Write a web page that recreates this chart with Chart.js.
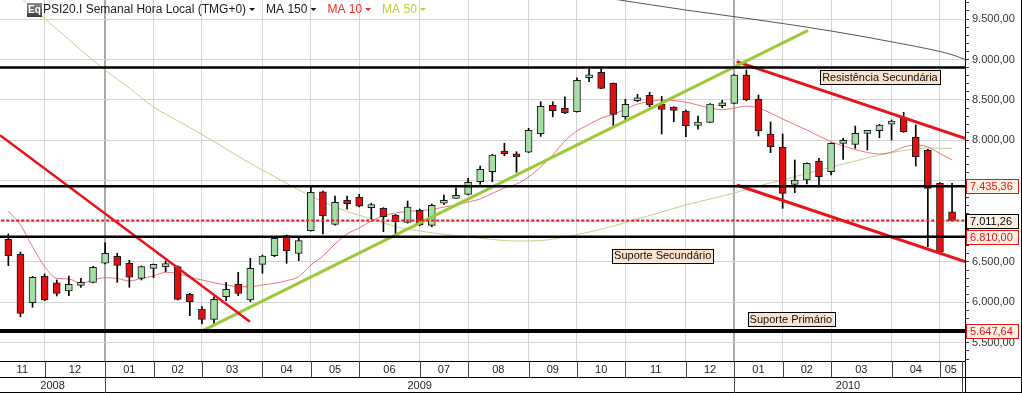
<!DOCTYPE html>
<html>
<head>
<meta charset="utf-8">
<script src="https://cdn.jsdelivr.net/npm/chart.js@4.4.0/dist/chart.umd.min.js"></script>
<style>
html, body { margin: 0; padding: 0; background: #fff; }
canvas { display: block; }
</style>
</head>
<body>
<canvas id="psiChart" width="1022" height="393"></canvas>
<script>
// weekly candles, index 0 = week of 10 Nov 2008, last = week of 10 May 2010
var openValues = [6779, 6594, 5996, 6322, 6243, 6141, 6211, 6248, 6483, 6569,
  6483, 6297, 6421, 6441, 6441, 6100, 5915, 5791, 6070, 6223,
  6030, 6470, 6577, 6824, 6606, 6885, 7367, 6964, 7261, 7302,
  7170, 7162, 7079, 6989, 7137, 6952, 7224, 7285, 7335, 7491,
  7614, 7866, 7833, 7854, 8083, 8434, 8397, 8355, 8775, 8842,
  8706, 8293, 8491, 8558, 8450, 8404, 8364, 8187, 8224, 8429,
  8459, 8808, 8508, 8080, 7916, 7458, 7512, 7746, 7614, 7965,
  7952, 8088, 8121, 8200, 8281, 8039, 7882, 7471, 7120];
var highValues = [6845, 6622, 6320, 6351, 6277, 6326, 6298, 6446, 6737, 6606,
  6520, 6450, 6475, 6511, 6450, 6112, 5947, 6070, 6248, 6372,
  6545, 6585, 6804, 6832, 6792, 7438, 7375, 7314, 7314, 7335,
  7224, 7170, 7085, 7252, 7153, 7215, 7326, 7416, 7533, 7685,
  7829, 7965, 7861, 8150, 8479, 8479, 8540, 8775, 8883, 8883,
  8710, 8508, 8570, 8595, 8545, 8417, 8376, 8302, 8455, 8496,
  8815, 8870, 8561, 8228, 8080, 7759, 7725, 7780, 7970, 8027,
  8178, 8125, 8200, 8253, 8348, 8191, 7890, 7480, 7471];
var lowValues = [6453, 5823, 5940, 6021, 6079, 6083, 6186, 6240, 6475, 6248,
  6186, 6277, 6305, 6379, 6030, 5836, 5733, 5733, 6021, 6083,
  6009, 6359, 6564, 6483, 6515, 6880, 6845, 6955, 7150, 7180,
  7026, 6873, 6845, 6980, 6947, 6935, 7211, 7285, 7326, 7458,
  7491, 7812, 7607, 7850, 8051, 8293, 8331, 8350, 8726, 8640,
  8178, 8232, 8479, 8417, 8080, 8232, 8046, 8138, 8220, 8405,
  8455, 8491, 8055, 7849, 7162, 7355, 7462, 7438, 7573, 7767,
  7903, 7882, 8034, 8006, 8100, 7685, 6688, 6614, 7005];
var closeValues = [6577, 5865, 6310, 6033, 6112, 6223, 6248, 6433, 6606, 6458,
  6310, 6441, 6470, 6470, 6038, 6009, 5791, 6038, 6162, 6112,
  6421, 6573, 6792, 6638, 6762, 7360, 7067, 7236, 7219, 7187,
  7203, 7058, 6997, 7178, 6956, 7199, 7261, 7314, 7483, 7644,
  7820, 7833, 7799, 8125, 8422, 8368, 8343, 8743, 8805, 8644,
  8323, 8447, 8521, 8438, 8385, 8372, 8182, 8228, 8450, 8463,
  8808, 8500, 8121, 7923, 7347, 7512, 7718, 7552, 7965, 7993,
  8088, 8117, 8191, 8240, 8108, 7799, 7409, 6626, 7011];

// moving averages
var ma10Values = [7129, 6956, 6688, 6441, 6297, 6289, 6236, 6277, 6305, 6297,
  6264, 6297, 6326, 6372, 6359, 6310, 6277, 6243, 6215, 6194,
  6194, 6215, 6236, 6268, 6318, 6462, 6573, 6721, 6845, 6919,
  7005, 7067, 7104, 7123, 7135, 7147, 7178, 7203, 7240, 7277,
  7346, 7413, 7462, 7549, 7672, 7820, 7993, 8118, 8197, 8277,
  8321, 8389, 8450, 8481, 8500, 8493, 8475, 8437, 8400, 8381,
  8400, 8425, 8400, 8339, 8265, 8197, 8129, 8055, 7987, 7932,
  7888, 7851, 7833, 7857, 7919, 7944, 7919, 7839, 7759];
var ma50Points = [[0, 9895], [2, 9636], [4, 9376], [6, 9117], [8, 8866], [10, 8648],
  [12, 8413], [14, 8243], [16, 8074], [18, 7895], [20, 7718], [22, 7553],
  [24, 7388], [26, 7244], [28, 7123], [30, 7032], [32, 6937], [34, 6882],
  [36, 6841], [38, 6811], [40, 6777], [42, 6758], [44, 6764], [46, 6808],
  [48, 6869], [50, 6943], [52, 7030], [54, 7116], [56, 7203], [58, 7277],
  [60, 7351], [62, 7438], [64, 7512], [66, 7592], [68, 7672], [70, 7746],
  [72, 7820], [74, 7876], [76, 7907], [78, 7901]];
var ma150Points = [[50, 9747], [56, 9611], [62, 9488], [68, 9352], [74, 9190], [78, 9060], [79.07, 9000]];

// drawn trend lines: [week index, price]
var downTrendLine = [[-0.69, 8065], [19.97, 5762]];
var upTrendLine = [[16.03, 5647], [66.1, 9359]];
var channelTop = [[60.2, 8973], [79.07, 8025]];
var channelBottom = [[60.2, 7450], [79.07, 6503]];

var levelValues = [8900, 7435.36, 6810, 5647.64];
var lastClose = 7011.26;

var monthStarts = [3, 8, 12, 16, 21, 25, 29, 34, 38, 43, 47, 51, 56, 60, 64, 68, 73, 77];
var monthLabels = ['11', '12', '01', '02', '03', '04', '05', '06', '07', '08', '09', '10', '11', '12', '01', '02', '03', '04', '05'];
var yearStarts = [8, 60];
var yearLabels = ['2008', '2009', '2010'];

var noteLabels = [
  {text: 'Resistência Secundária', x: 67.1, y: 8784},
  {text: 'Suporte Secundário', x: 49.9, y: 6579},
  {text: 'Suporte Primário', x: 61.1, y: 5795}
];
var axisBoxes = [
  {value: 7435.36, color: '#e01818'},
  {value: 7011.26, color: '#000000'},
  {value: 6810, color: '#e01818'},
  {value: 5647.64, color: '#e01818'}
];

var FONT = '"Liberation Sans", Arial, sans-serif';

function fmt(v) {
  var parts = v.toFixed(2).split('.');
  return parts[0].replace(/\B(?=(\d{3})+(?!\d))/g, '.') + ',' + parts[1];
}
function pts(list) {
  return list.map(function(p) { return {x: p[0], y: p[1]}; });
}
// tick labels hidden under a value box
function coveredByBox(v) {
  return axisBoxes.some(function(b) { return Math.abs(b.value - v) < 120; });
}

var xMin = -0.69, xMax = 79.07, rowEnd = 78.8;

var overlay = {
  id: 'overlay',
  afterDraw: function(chart) {
    var ctx = chart.ctx;
    var xs = chart.scales.x, ys = chart.scales.y, area = chart.chartArea;
    ctx.save();

    // header
    var g = ctx.createLinearGradient(0, 3, 0, 17);
    g.addColorStop(0, '#8a8a8a');
    g.addColorStop(1, '#3a3a3a');
    ctx.fillStyle = g;
    ctx.fillRect(27, 3, 15, 14);
    ctx.fillStyle = '#fff';
    ctx.font = 'bold 10px ' + FONT;
    ctx.textBaseline = 'middle';
    ctx.fillText('Eq', 28, 10);
    var items = [
      {t: 'PSI20.I Semanal Hora Local (TMG+0)', c: '#1a1a1a'},
      {t: 'MA 150', c: '#1a1a1a'},
      {t: 'MA 10', c: '#e62b2b'},
      {t: 'MA 50', c: '#b5d43a'}
    ];
    var hx = 43;
    ctx.font = '12px ' + FONT;
    items.forEach(function(it) {
      ctx.fillStyle = it.c;
      ctx.fillText(it.t, hx, 10);
      hx += ctx.measureText(it.t).width + 3;
      ctx.beginPath();
      ctx.moveTo(hx, 8);
      ctx.lineTo(hx + 6, 8);
      ctx.lineTo(hx + 3, 11);
      ctx.closePath();
      ctx.fill();
      hx += 17;
    });

    // note boxes
    ctx.font = '11px ' + FONT;
    noteLabels.forEach(function(n) {
      var px = xs.getPixelForValue(n.x), py = ys.getPixelForValue(n.y);
      var w = ctx.measureText(n.text).width + 4;
      ctx.fillStyle = '#fbe2cc';
      ctx.fillRect(px, py - 7, w, 14);
      ctx.strokeStyle = '#000';
      ctx.lineWidth = 1;
      ctx.strokeRect(Math.round(px) + 0.5, Math.round(py - 7) + 0.5, Math.round(w), 14);
      ctx.fillStyle = '#111';
      ctx.fillText(n.text, px + 2, py + 0.5);
    });

    // value boxes on the price axis
    axisBoxes.forEach(function(b) {
      var py = Math.round(ys.getPixelForValue(b.value));
      ctx.fillStyle = '#fdf0e4';
      ctx.fillRect(area.right + 1, py - 7, 52, 15);
      ctx.strokeStyle = b.color;
      ctx.strokeRect(area.right + 1.5, py - 6.5, 52, 14);
      ctx.fillStyle = b.color;
      ctx.fillText(fmt(b.value), area.right + 5, py + 1);
    });

    // bottom rows: months and years
    var top = area.bottom, mid = top + 16, bot = chart.height - 0.5;
    ctx.strokeStyle = '#000';
    ctx.lineWidth = 1;
    ctx.beginPath();
    ctx.moveTo(0, mid + 0.5); ctx.lineTo(chart.width, mid + 0.5);
    ctx.moveTo(0, bot); ctx.lineTo(chart.width, bot);
    ctx.moveTo(area.right + 0.5, top); ctx.lineTo(area.right + 0.5, chart.height);
    ctx.moveTo(chart.width - 0.5, 0); ctx.lineTo(chart.width - 0.5, chart.height);
    ctx.stroke();

    ctx.textAlign = 'center';
    ctx.fillStyle = '#222';
    var mEdges = [xMin].concat(monthStarts, [rowEnd]);
    ctx.strokeStyle = '#444';
    ctx.beginPath();
    for (var k = 0; k < monthLabels.length; k++) {
      var a = xs.getPixelForValue(mEdges[k]), b2 = xs.getPixelForValue(mEdges[k + 1]);
      ctx.fillText(monthLabels[k], (a + b2) / 2, top + 8.5);
      ctx.moveTo(Math.round(b2) + 0.5, top);
      ctx.lineTo(Math.round(b2) + 0.5, mid);
    }
    var yEdges = [xMin].concat(yearStarts, [rowEnd]);
    for (var j = 0; j < yearLabels.length; j++) {
      var a2 = xs.getPixelForValue(yEdges[j]), b3 = xs.getPixelForValue(yEdges[j + 1]);
      ctx.fillText(yearLabels[j], (a2 + b3) / 2, mid + 8.5);
      ctx.moveTo(Math.round(b3) + 0.5, mid);
      ctx.lineTo(Math.round(b3) + 0.5, chart.height);
    }
    ctx.stroke();
    ctx.restore();
  }
};

var bodyColors = openValues.map(function(o, i) {
  return closeValues[i] >= o ? '#a4dea4' : '#e01010';
});

var ctxEl = document.getElementById('psiChart');
var chart = new Chart(ctxEl, {
  type: 'bar',
  data: {
    datasets: [
      {
        label: 'corpo',
        data: openValues.map(function(o, i) { return {x: i, y: [o, closeValues[i]]}; }),
        backgroundColor: bodyColors,
        borderColor: '#1a1a1a',
        borderWidth: 1,
        borderSkipped: false,
        barThickness: 7,
        minBarLength: 3,
        grouped: false,
        order: 3
      },
      {
        label: 'sombra',
        data: lowValues.map(function(l, i) { return {x: i, y: [l, highValues[i]]}; }),
        backgroundColor: '#000',
        borderWidth: 0,
        barThickness: 1,
        grouped: false,
        order: 4
      },
      {
        type: 'line', label: 'MA 10',
        data: ma10Values.map(function(v, i) { return {x: i, y: v}; }),
        borderColor: 'rgba(238,90,100,0.85)', borderWidth: 1, pointRadius: 0,
        cubicInterpolationMode: 'monotone', order: 6
      },
      {
        type: 'line', label: 'MA 50', data: pts(ma50Points),
        borderColor: '#bcd28c', borderWidth: 1, pointRadius: 0,
        cubicInterpolationMode: 'monotone', order: 7
      },
      {
        type: 'line', label: 'MA 150', data: pts(ma150Points),
        borderColor: '#555', borderWidth: 1, pointRadius: 0,
        cubicInterpolationMode: 'monotone', order: 8
      },
      {
        type: 'line', data: pts(downTrendLine),
        borderColor: '#e8141a', borderWidth: 2.5, pointRadius: 0, order: 2
      },
      {
        type: 'line', data: pts(upTrendLine),
        borderColor: '#9cc83a', borderWidth: 3, pointRadius: 0, order: 2
      },
      {
        type: 'line', data: pts(channelTop),
        borderColor: '#e8141a', borderWidth: 3, pointRadius: 0, order: 2
      },
      {
        type: 'line', data: pts(channelBottom),
        borderColor: '#e8141a', borderWidth: 3, pointRadius: 0, order: 2
      }
    ].concat(levelValues.map(function(v, k) {
      return {
        type: 'line', data: [{x: -1, y: v}, {x: 80, y: v}],
        borderColor: '#000', borderWidth: k === 3 ? 4 : 2.5, pointRadius: 0, order: 1
      };
    }), [{
      type: 'line', data: [{x: -1, y: lastClose}, {x: 80, y: lastClose}],
      borderColor: '#e41b1b', borderWidth: 2, borderDash: [3, 2], pointRadius: 0, order: 1
    }])
  },
  options: {
    responsive: false,
    devicePixelRatio: 1,
    animation: false,
    layout: { padding: 0 },
    plugins: { legend: { display: false }, tooltip: { enabled: false } },
    scales: {
      x: {
        type: 'linear', position: 'bottom', min: xMin, max: xMax, offset: false,
        afterBuildTicks: function(s) { s.ticks = monthStarts.map(function(v) { return {value: v}; }); },
        afterFit: function(s) { s.height = 32; s.paddingLeft = 0; s.paddingRight = 0; },
        ticks: { display: false },
        grid: {
          offset: false, drawTicks: false,
          color: function(c) { return c.tick && yearStarts.indexOf(c.tick.value) >= 0 ? '#a9a9a9' : '#d3d3d3'; },
          lineWidth: function(c) { return c.tick && yearStarts.indexOf(c.tick.value) >= 0 ? 2 : 1; }
        },
        border: { display: true, color: '#000' }
      },
      y: {
        position: 'right', min: 5276, max: 9735,
        afterBuildTicks: function(s) {
          var t = [];
          for (var v = 5300; v <= 9700; v += 100) t.push({value: v});
          s.ticks = t;
        },
        afterFit: function(s) { s.width = 57; s.paddingTop = 0; s.paddingBottom = 0; },
        ticks: {
          autoSkip: false, padding: 3, color: '#333',
          font: { family: FONT, size: 11 },
          callback: function(v) { return v % 500 === 0 && !coveredByBox(v) ? fmt(v) : ''; }
        },
        grid: {
          tickLength: 4, tickColor: '#333',
          color: function(c) { return c.tick && c.tick.value % 500 === 0 ? '#d3d3d3' : 'rgba(0,0,0,0)'; }
        },
        border: { display: true, color: '#000' }
      }
    }
  },
  plugins: [overlay]
});
</script>
</body>
</html>
